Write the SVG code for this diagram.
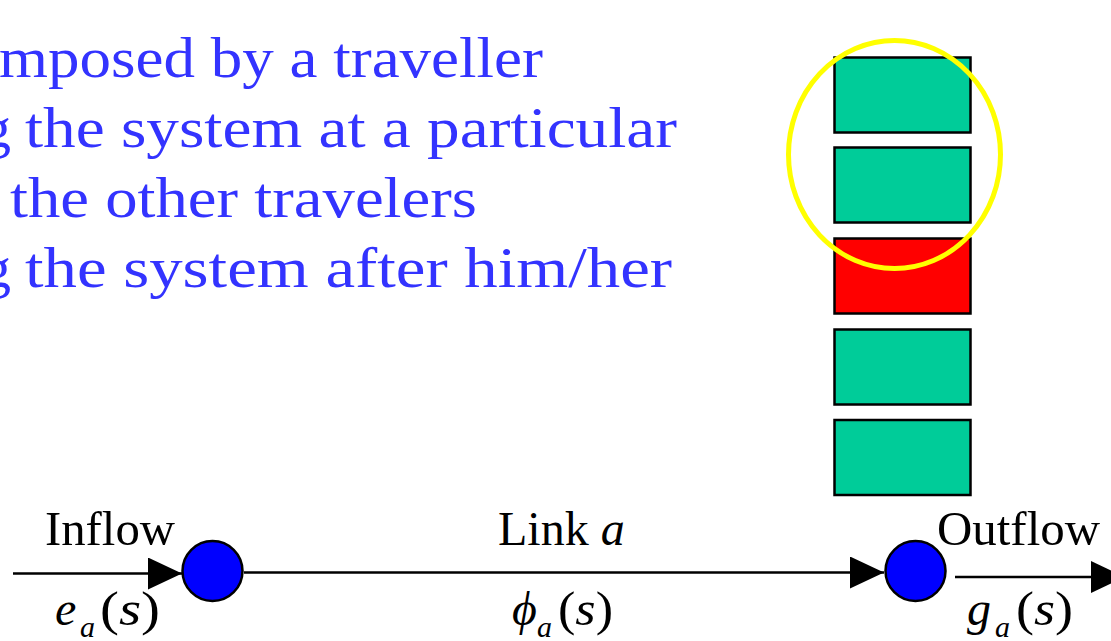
<svg xmlns="http://www.w3.org/2000/svg" width="1111" height="641" viewBox="0 0 1111 641">
  <style>
    .blue { font-family: "Liberation Serif", "DejaVu Serif", serif; font-size: 58px; fill: #3333FF; }
    .lbl { font-family: "Liberation Serif", "DejaVu Serif", serif; font-size: 48px; fill: #000000; }
    .it { font-style: italic; }
    .sub { font-size: 30px; font-style: italic; }
    .veh { stroke: #000000; stroke-width: 2.5; }
    .green { fill: #00CC99; }
    .red { fill: #FF0000; }
    .node { fill: #0000FF; stroke: #000000; stroke-width: 2.5; }
    .edge { stroke: #000000; stroke-width: 2.5; fill: none; marker-end: url(#arrow); }
  </style>
  <defs>
    <marker id="arrow" markerUnits="userSpaceOnUse" markerWidth="36" markerHeight="34" refX="34" refY="16" orient="auto">
      <path d="M0,0 L34,16 L0,32 Z" fill="#000000"/>
    </marker>
  </defs>
  <rect width="1111" height="641" fill="#FFFFFF"/>

  <g id="explanation">
    <text class="blue" x="-1" y="77" textLength="544" lengthAdjust="spacingAndGlyphs">mposed by a traveller</text>
    <text class="blue" x="-18" y="147">g</text>
    <text class="blue" x="25" y="147" textLength="652" lengthAdjust="spacingAndGlyphs">the system at a particular</text>
    <text class="blue" x="10" y="217" textLength="467" lengthAdjust="spacingAndGlyphs">the other travelers</text>
    <text class="blue" x="-18" y="287">g</text>
    <text class="blue" x="25" y="287" textLength="647" lengthAdjust="spacingAndGlyphs">the system after him/her</text>
  </g>

  <g id="queue">
    <rect class="veh green" x="834.5" y="57.5" width="136" height="75"/>
    <rect class="veh green" x="834.5" y="147.5" width="136" height="75"/>
    <rect class="veh red" x="834.5" y="238.5" width="136" height="75"/>
    <rect class="veh green" x="834.5" y="329.5" width="136" height="75"/>
    <rect class="veh green" x="834.5" y="420" width="136" height="75"/>
  </g>

  <g id="highlight">
    <ellipse cx="894.5" cy="154.5" rx="106" ry="114" fill="none" stroke="#FFFF00" stroke-width="5"/>
  </g>

  <g id="connectors">
    <line class="edge" x1="13" y1="573.5" x2="182" y2="573.5"/>
    <line class="edge" x1="244" y1="572.5" x2="884" y2="572.5"/>
    <line class="edge" x1="955" y1="577" x2="1125" y2="577"/>
  </g>

  <g id="node-origin">
    <circle class="node" cx="212.5" cy="571" r="30"/>
  </g>
  <g id="node-destination">
    <circle class="node" cx="915.5" cy="571" r="30"/>
  </g>

  <g id="labels">
    <text class="lbl" x="45" y="545" textLength="130" lengthAdjust="spacingAndGlyphs">Inflow</text>
    <text class="lbl" x="498" y="545">Link <tspan class="it">a</tspan></text>
    <text class="lbl" x="937" y="545" textLength="163" lengthAdjust="spacingAndGlyphs">Outflow</text>

    <text class="lbl" x="55" y="625"><tspan class="it">e</tspan><tspan class="sub" x="80" y="637">a</tspan></text>
    <text class="lbl" x="100" y="625" textLength="60" lengthAdjust="spacingAndGlyphs">(<tspan class="it">s</tspan>)</text>

    <text class="lbl" x="512" y="625"><tspan class="it">ϕ</tspan><tspan class="sub" x="537" y="637">a</tspan></text>
    <text class="lbl" x="558" y="625" textLength="55" lengthAdjust="spacingAndGlyphs">(<tspan class="it">s</tspan>)</text>

    <text class="lbl" x="967" y="625"><tspan class="it">g</tspan><tspan class="sub" x="995" y="637">a</tspan></text>
    <text class="lbl" x="1016" y="625" textLength="57" lengthAdjust="spacingAndGlyphs">(<tspan class="it">s</tspan>)</text>
  </g>
</svg>
